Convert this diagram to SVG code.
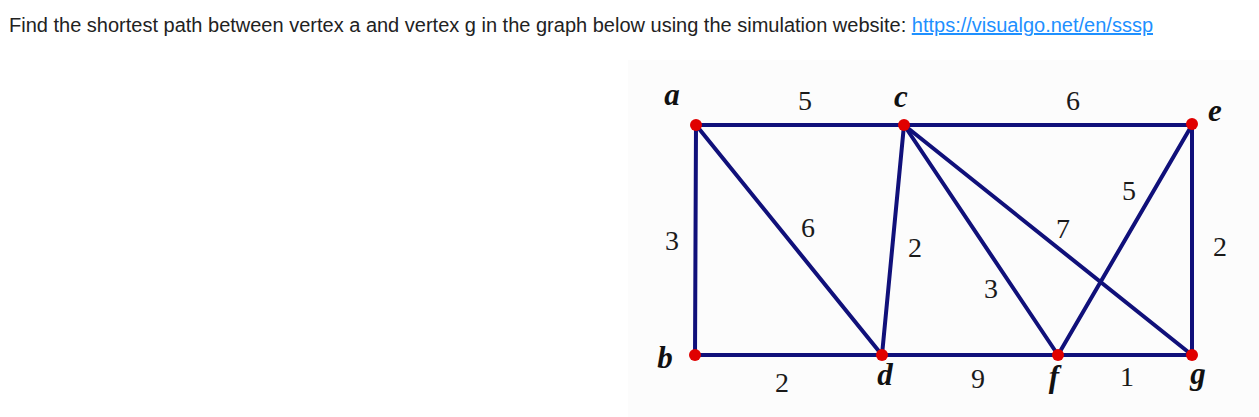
<svg xmlns="http://www.w3.org/2000/svg" width="1259" height="417" viewBox="0 0 1259 417">
<style>
.hdr{font-family:"Liberation Sans",Arial,sans-serif;font-size:20px;fill:#222}
.lnk{fill:#1e90ff;text-decoration:underline}
.e{stroke:#10107a;stroke-width:4;stroke-linecap:round}
.v{fill:#e00000}
.vl{font-family:"Liberation Serif","Times New Roman",serif;font-size:31px;font-style:italic;font-weight:bold;fill:#111}
.w{font-family:"Liberation Serif","Times New Roman",serif;font-size:28px;fill:#1a1a1a}
</style>
<rect width="1259" height="417" fill="#fff"/>
<text class="hdr" x="9" y="32">Find the shortest path between vertex a and vertex g in the graph below using the simulation website: <tspan class="lnk">https://visualgo.net/en/sssp</tspan></text>
<rect x="628" y="60" width="631" height="357" fill="#fcfcfc"/>
<g id="connectors">
<line class="e" x1="696" y1="125" x2="1192" y2="125"/>
<line class="e" x1="696" y1="125" x2="695" y2="355"/>
<line class="e" x1="696" y1="125" x2="882" y2="355"/>
<line class="e" x1="904" y1="125" x2="882" y2="355"/>
<line class="e" x1="904" y1="125" x2="1058" y2="355"/>
<line class="e" x1="904" y1="125" x2="1192" y2="355"/>
<line class="e" x1="1192" y1="125" x2="1058" y2="355"/>
<line class="e" x1="1192" y1="125" x2="1192" y2="355"/>
<line class="e" x1="695" y1="355" x2="1192" y2="355"/>
</g>
<g id="weights">
<text class="w" x="805" y="110" text-anchor="middle">5</text>
<text class="w" x="1073" y="110" text-anchor="middle">6</text>
<text class="w" x="672" y="250" text-anchor="middle">3</text>
<text class="w" x="808" y="237" text-anchor="middle">6</text>
<text class="w" x="915" y="257" text-anchor="middle">2</text>
<text class="w" x="1063" y="238" text-anchor="middle">7</text>
<text class="w" x="1129" y="200" text-anchor="middle">5</text>
<text class="w" x="991" y="298" text-anchor="middle">3</text>
<text class="w" x="1220" y="256" text-anchor="middle">2</text>
<text class="w" x="782" y="392" text-anchor="middle">2</text>
<text class="w" x="978" y="388" text-anchor="middle">9</text>
<text class="w" x="1127" y="386" text-anchor="middle">1</text>
</g>
<g id="node-a"><circle class="v" cx="696" cy="125" r="6"/><text class="vl" x="672" y="105" text-anchor="middle">a</text></g>
<g id="node-c"><circle class="v" cx="904" cy="125" r="6"/><text class="vl" x="901" y="107" text-anchor="middle">c</text></g>
<g id="node-e"><circle class="v" cx="1192" cy="124" r="6"/><text class="vl" x="1215" y="121" text-anchor="middle">e</text></g>
<g id="node-b"><circle class="v" cx="695" cy="355" r="6"/><text class="vl" x="665" y="368" text-anchor="middle">b</text></g>
<g id="node-d"><circle class="v" cx="882" cy="355" r="6"/><text class="vl" x="885" y="385" text-anchor="middle">d</text></g>
<g id="node-f"><circle class="v" cx="1058" cy="355" r="6"/><text class="vl" x="1054" y="387" text-anchor="middle" font-weight="normal">f</text></g>
<g id="node-g"><circle class="v" cx="1192" cy="355" r="6"/><text class="vl" x="1198" y="384" text-anchor="middle">g</text></g>
</svg>
